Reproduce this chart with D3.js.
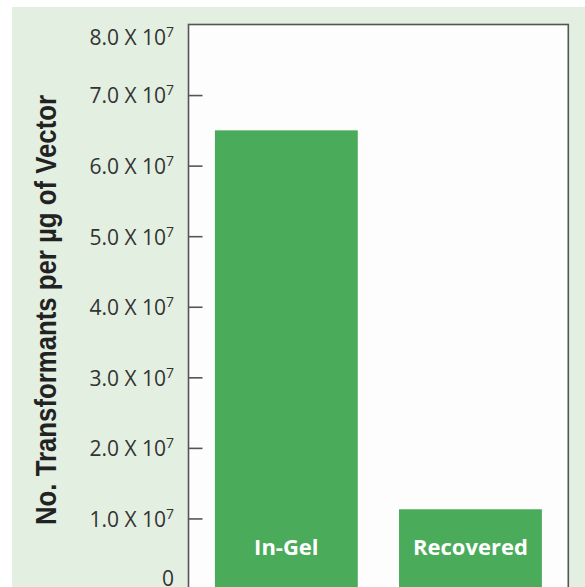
<!DOCTYPE html>
<html>
<head>
<meta charset="utf-8">
<script src="https://cdn.jsdelivr.net/npm/d3@7"></script>
<style>
  html, body { margin: 0; padding: 0; background: #fff; }
  svg { display: block; }
</style>
</head>
<body>
<div id="chart"></div>
<script>
// data
var categories = ["In-Gel", "Recovered"];
var values = [6.5e7, 1.13e7];
var tickValues = [0, 1e7, 2e7, 3e7, 4e7, 5e7, 6e7, 7e7, 8e7];
var tickMantissa = ["0", "1.0", "2.0", "3.0", "4.0", "5.0", "6.0", "7.0", "8.0"];
var yTitle = "No. Transformants per \u00b5g of Vector";

var W = 585, H = 587;
// plot box edges (note: "top" is reserved on window)
var plotL = 188.5, plotR = 568.3, plotT = 24.5, plotB = 589;

var svg = d3.select("#chart").append("svg")
  .attr("width", W).attr("height", H);

// pale green panel
svg.append("rect")
  .attr("x", 12).attr("y", 7)
  .attr("width", W - 12).attr("height", H - 7)
  .attr("fill", "#e3efe1");

var y = d3.scaleLinear().domain([0, 8e7]).range([plotB, plotT]);
var x = d3.scaleBand().domain(categories).range([plotL, plotR])
  .paddingInner(0.224).paddingOuter(0.1435);

// plot frame
svg.append("rect")
  .attr("x", plotL).attr("y", plotT)
  .attr("width", plotR - plotL).attr("height", plotB - plotT)
  .attr("fill", "#fdfdfd")
  .attr("stroke", "#555").attr("stroke-width", 1.6);

// bars
svg.selectAll("rect.bar")
  .data(values)
  .enter().append("rect")
  .attr("class", "bar")
  .attr("x", function(d, i) { return x(categories[i]); })
  .attr("y", function(d) { return y(d); })
  .attr("width", x.bandwidth())
  .attr("height", function(d) { return plotB - y(d); })
  .attr("fill", "#4aab5a");

// labels inside bars
svg.selectAll("text.blabel")
  .data(categories)
  .enter().append("text")
  .attr("class", "blabel")
  .attr("x", function(d) { return x(d) + x.bandwidth() / 2; })
  .attr("y", 555)
  .attr("text-anchor", "middle")
  .style("font-family", "'Open Sans', sans-serif")
  .style("font-weight", 700)
  .style("font-size", "22px")
  .style("fill", "#fff")
  .text(function(d) { return d; });

// y axis, ticks pointing inward
var axis = d3.axisLeft(y)
  .tickValues(tickValues)
  .tickSize(-14)
  .tickPadding(14.5)
  .tickFormat(function() { return ""; });

var g = svg.append("g")
  .attr("transform", "translate(" + plotL + ",0)")
  .call(axis);
g.select(".domain").remove();
g.selectAll(".tick line")
  .attr("stroke", "#555").attr("stroke-width", 1.6)
  .style("display", function(d) { return (d === 0 || d === 8e7) ? "none" : null; });

g.selectAll(".tick text").each(function(d, i) {
  var t = d3.select(this);
  // end labels sit a bit inside the frame
  var shift = d === 8e7 ? 12 : (d === 0 ? -11 : 0);
  t.attr("dy", null)
    .attr("y", 7.8 + shift)
    .attr("fill", "#333")
    .style("font-family", "'Open Sans', sans-serif")
    .style("font-size", "21px");
  if (d === 0) {
    t.text(tickMantissa[i]);
  } else {
    t.append("tspan").text(tickMantissa[i] + " X 10");
    t.append("tspan").attr("dy", -8).style("font-size", "14px").text("7");
  }
});

// y title
svg.append("text")
  .attr("transform", "translate(56,310) rotate(-90)")
  .attr("text-anchor", "middle")
  .attr("textLength", 430)
  .attr("lengthAdjust", "spacingAndGlyphs")
  .style("font-family", "'Liberation Sans Narrow', sans-serif")
  .style("font-weight", 700)
  .style("font-size", "30px")
  .style("fill", "#222")
  .text(yTitle);
</script>
</body>
</html>
